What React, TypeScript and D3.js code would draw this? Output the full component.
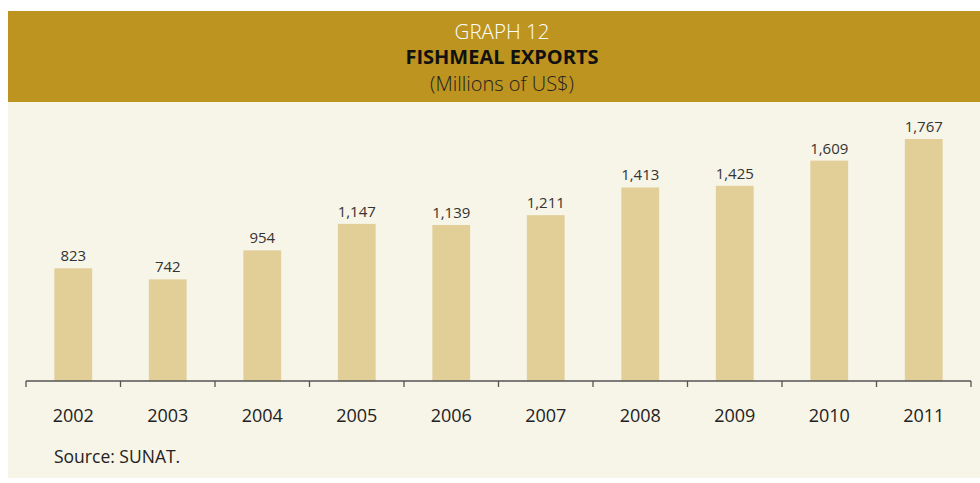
import React from "react";
import * as d3 from "d3";

const years = ["2002", "2003", "2004", "2005", "2006", "2007", "2008", "2009", "2010", "2011"];
const values = [823, 742, 954, 1147, 1139, 1211, 1413, 1425, 1609, 1767];
const titleLines = ["GRAPH 12", "FISHMEAL EXPORTS", "(Millions of US$)"];
const sourceText = "Source: SUNAT.";

const W = 980;
const H = 483;
const FONT = "'Open Sans', 'Noto Sans', sans-serif";

export default function App() {
  const axisY = 381;
  const x = d3.scaleBand<string>().domain(years).range([26, 971]).paddingInner(0.6).paddingOuter(0.3);
  const y = d3.scaleLinear().domain([0, 2000]).range([axisY, axisY - 2000 * (242 / 1767)]);
  const step = x.step();
  const tickXs = d3.range(years.length + 1).map((i) => 26 + i * step);
  const fmt = d3.format(",");
  const cx = 502;

  return (
    <svg width={W} height={H} style={{ position: "absolute", left: 0, top: 0 }} fontFamily={FONT}>
      <rect x={0} y={0} width={W} height={H} fill="#ffffff" />
      <rect x={8} y={11} width={W - 8} height={91} fill="#bc941f" />
      <rect x={8} y={102} width={W - 8} height={376} fill="#f7f4e8" />
      <text x={cx} y={39} textAnchor="middle" fill="#ffffff" fontSize={20.5} fontWeight={300}>
        {titleLines[0]}
      </text>
      <text x={cx} y={64} textAnchor="middle" fill="#111111" fontSize={20} fontWeight={700}>
        {titleLines[1]}
      </text>
      <text x={cx} y={91} textAnchor="middle" fill="#222222" fontSize={20} fontWeight={300}>
        {titleLines[2]}
      </text>

      {years.map((yr, i) => (
        <g key={yr}>
          <rect x={x(yr)} y={y(values[i])} width={x.bandwidth()} height={axisY - y(values[i])} fill="#e2cf98" />
          <text
            x={(x(yr) as number) + x.bandwidth() / 2}
            y={y(values[i]) - 7}
            textAnchor="middle"
            fill="#333333"
            fontSize={15}
          >
            {fmt(values[i])}
          </text>
          <text
            x={(x(yr) as number) + x.bandwidth() / 2}
            y={422}
            textAnchor="middle"
            fill="#222222"
            fontSize={18}
          >
            {yr}
          </text>
        </g>
      ))}

      <line x1={26} x2={971} y1={axisY} y2={axisY} stroke="#555555" strokeWidth={1.5} />
      {tickXs.map((tx, i) => (
        <line key={i} x1={tx} x2={tx} y1={axisY} y2={axisY + 6} stroke="#555555" strokeWidth={1.3} />
      ))}

      <text x={54} y={463} fill="#222222" fontSize={17.5}>
        {sourceText}
      </text>
    </svg>
  );
}
